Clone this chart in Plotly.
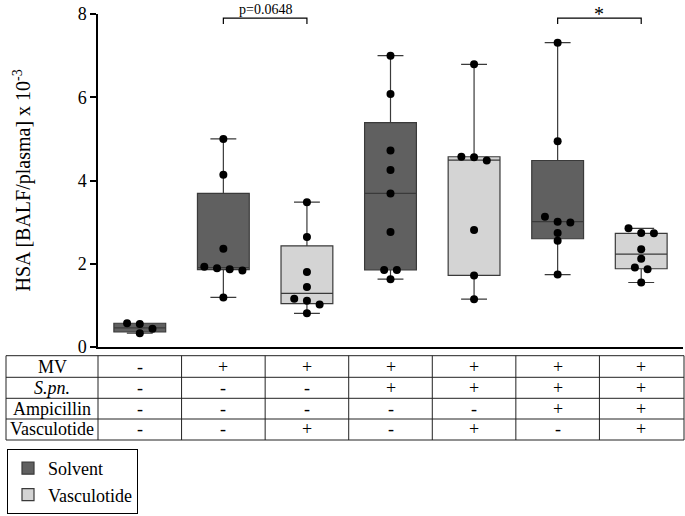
import plotly.graph_objects as go

# ---------------- data ----------------
group_index = [0, 1, 2, 3, 4, 5, 6]
treatment = ["Solvent", "Solvent", "Vasculotide", "Solvent", "Vasculotide", "Solvent", "Vasculotide"]

g1 = [0.57, 0.55, 0.44, 0.33]
g2 = [5.00, 4.14, 2.36, 1.93, 1.89, 1.87, 1.84, 1.19]
g3 = [3.48, 2.64, 1.80, 1.44, 1.16, 1.11, 1.02, 0.81]
g4 = [7.00, 6.08, 4.72, 4.25, 3.69, 2.76, 1.85, 1.85, 1.63]
g5 = [6.79, 4.57, 4.56, 4.48, 2.81, 1.72, 1.15]
g6 = [7.31, 4.94, 3.13, 3.01, 2.99, 2.74, 2.55, 1.74]
g7 = [2.85, 2.74, 2.73, 2.35, 2.12, 1.91, 1.87, 1.55]
groups = [g1, g2, g3, g4, g5, g6, g7]

box_q1 = [0.36, 1.86, 1.04, 1.85, 1.72, 2.60, 1.88]
box_median = [0.46, 1.91, 1.29, 3.69, 4.49, 3.01, 2.23]
box_q3 = [0.57, 3.69, 2.43, 5.39, 4.57, 4.48, 2.73]

row_labels = ["MV", "<i>S.pn.</i>", "Ampicillin", "Vasculotide"]
mv = ["-", "+", "+", "+", "+", "+", "+"]
spn = ["-", "-", "-", "+", "+", "+", "+"]
ampicillin = ["-", "-", "-", "-", "-", "+", "+"]
vasculotide = ["-", "-", "+", "-", "+", "-", "+"]
table_rows = [mv, spn, ampicillin, vasculotide]

comparisons = [(1, 2, "p=0.0648"), (5, 6, "*")]

y_ticks = [0, 2, 4, 6, 8]
y_title = "HSA [BALF/plasma] x 10<sup>-3</sup>"

# ---------------- style ----------------
FONT = "Liberation Serif"
DARK = "#606060"
LIGHT = "#d4d4d4"
EDGE = "#3a3a3a"
W, H = 685, 516
ML, MR, MT, MB = 98, 2, 14, 169
PW, PH = W - ML - MR, H - MT - MB


def px_x(px):
    return (px - ML) / PW


def px_y(py):
    return (H - MB - py) / PH


def swarm_offsets(values, row_tol=0.18, step=0.152):
    order = sorted(range(len(values)), key=lambda i: -values[i])
    rows = []
    for i in order:
        if rows and values[rows[-1][0]] - values[i] <= row_tol:
            rows[-1].append(i)
        else:
            rows.append([i])
    offs = [0.0] * len(values)
    for row in rows:
        n = len(row)
        for j, i in enumerate(row):
            offs[i] = (j - (n - 1) / 2) * step
    return offs


fig = go.Figure()

for name, color in [("Solvent", DARK), ("Vasculotide", LIGHT)]:
    idx = [i for i in group_index if treatment[i] == name]
    fig.add_trace(go.Box(
        name=name,
        x=idx,
        q1=[box_q1[i] for i in idx],
        median=[box_median[i] for i in idx],
        q3=[box_q3[i] for i in idx],
        lowerfence=[min(groups[i]) for i in idx],
        upperfence=[max(groups[i]) for i in idx],
        width=0.62,
        whiskerwidth=0.5,
        fillcolor=color,
        line=dict(color=EDGE, width=1.2),
        boxpoints=False,
        hoverinfo="skip",
        showlegend=True,
    ))

px_list, py_list = [], []
for i, vals in zip(group_index, groups):
    offs = swarm_offsets(vals)
    px_list += [i + o for o in offs]
    py_list += vals
fig.add_trace(go.Scatter(
    x=px_list, y=py_list, mode="markers",
    marker=dict(color="black", size=8),
    showlegend=False, hoverinfo="skip", cliponaxis=False,
))

shapes = []
annotations = []

# significance brackets
for a, b, label in comparisons:
    top, leg = 7.9, 7.76
    shapes.append(dict(type="path", xref="x", yref="y",
                       path=f"M {a},{leg} L {a},{top} L {b},{top} L {b},{leg}",
                       line=dict(color="black", width=1.2)))
    is_star = label == "*"
    annotations.append(dict(x=(a + b) / 2, y=top, xref="x", yref="y",
                            text=label, showarrow=False, yanchor="bottom",
                            font=dict(family=FONT, size=20 if is_star else 14, color="black"),
                            yshift=-9 if is_star else -1))

# table
tbl_left = px_x(6)
tbl_right = px_x(684)
row_edges_px = [355.7, 377.3, 398.3, 419.0, 440.0]
for py in row_edges_px:
    shapes.append(dict(type="line", xref="paper", yref="paper",
                       x0=tbl_left, x1=tbl_right, y0=px_y(py), y1=px_y(py),
                       line=dict(color="#222222", width=1)))
col_edges = [tbl_left] + [k / 7 for k in range(0, 7)] + [tbl_right]
for cx in col_edges:
    shapes.append(dict(type="line", xref="paper", yref="paper",
                       x0=cx, x1=cx, y0=px_y(row_edges_px[0]), y1=px_y(row_edges_px[-1]),
                       line=dict(color="#222222", width=1)))
for r, (lab, signs) in enumerate(zip(row_labels, table_rows)):
    yc = px_y((row_edges_px[r] + row_edges_px[r + 1]) / 2)
    annotations.append(dict(x=px_x(52), y=yc, xref="paper", yref="paper",
                            text=lab, showarrow=False, xanchor="center", yanchor="middle",
                            font=dict(family=FONT, size=18, color="black")))
    for i, s in zip(group_index, signs):
        annotations.append(dict(x=i, y=yc, xref="x", yref="paper",
                                text=s, showarrow=False, xanchor="center", yanchor="middle",
                                font=dict(family=FONT, size=18, color="black")))

# y-axis title
annotations.append(dict(x=px_x(22), y=0.5, xref="paper", yref="paper",
                        text=y_title, showarrow=False, textangle=-90,
                        xanchor="center", yanchor="middle",
                        font=dict(family=FONT, size=20, color="black")))

fig.update_layout(
    width=W, height=H,
    margin=dict(l=ML, r=MR, t=MT, b=MB),
    plot_bgcolor="white", paper_bgcolor="white",
    boxmode="overlay",
    font=dict(family=FONT, size=18, color="black"),
    xaxis=dict(range=[-0.5, 6.5], showline=True, linecolor="black", linewidth=1.5,
               showticklabels=False, ticks="", showgrid=False, zeroline=False, fixedrange=True),
    yaxis=dict(range=[0, 8], tickvals=y_ticks, showline=True, linecolor="black", linewidth=1.5,
               ticks="outside", ticklen=6, tickwidth=1.5, tickcolor="black",
               showgrid=False, zeroline=False,
               tickfont=dict(family=FONT, size=18, color="black")),
    legend=dict(x=px_x(7), y=px_y(449), xanchor="left", yanchor="top",
                bordercolor="black", borderwidth=1, bgcolor="white",
                tracegroupgap=0,
                font=dict(family=FONT, size=18, color="black")),
    shapes=shapes,
    annotations=annotations,
)

fig.write_html("out.html", config={"displayModeBar": False},
               post_script="document.body.style.margin='0px';document.body.style.overflow='hidden';")
